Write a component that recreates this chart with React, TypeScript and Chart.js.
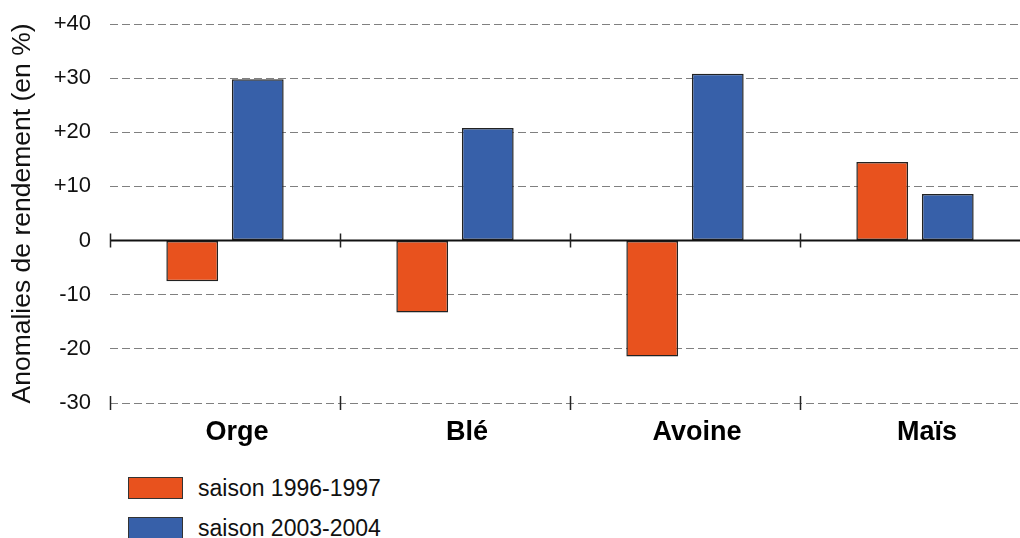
import React, { useEffect, useRef } from "react";
import { Chart, registerables } from "chart.js";

Chart.register(...registerables);

const categories = ["Orge", "Blé", "Avoine", "Maïs"];
const season1996 = [-7.5, -13.3, -21.4, 14.5];
const season2003 = [29.8, 20.8, 30.8, 8.6];
const seriesLabels = ["saison 1996-1997", "saison 2003-2004"];
const seriesColors = ["#E8521E", "#3760A9"];
const yTitle = "Anomalies de rendement (en %)";
const yMin = -30;
const yMax = 40;
const yStep = 10;

const FONT = "'Liberation Sans', Arial, Helvetica, sans-serif";

const decorPlugin = {
  id: "decor",
  afterDatasetsDraw(chart: any) {
    const { ctx, chartArea } = chart;
    const xs = chart.scales.x;
    const ys = chart.scales.y;
    const y0 = ys.getPixelForValue(0);
    const yb = ys.getPixelForValue(yMin);
    const cw = xs.getPixelForValue(1) - xs.getPixelForValue(0);
    ctx.save();
    ctx.strokeStyle = "#111";
    ctx.lineWidth = 2;
    ctx.beginPath();
    ctx.moveTo(chartArea.left, y0);
    ctx.lineTo(chartArea.right, y0);
    ctx.stroke();
    ctx.lineWidth = 1.5;
    ctx.strokeStyle = "#222";
    for (let i = 0; i < categories.length; i++) {
      const bx = Math.round(xs.getPixelForValue(i) - cw / 2) + 0.5;
      ctx.beginPath();
      ctx.moveTo(bx, y0 - 7);
      ctx.lineTo(bx, y0 + 7);
      ctx.moveTo(bx, yb - 7);
      ctx.lineTo(bx, yb + 7);
      ctx.stroke();
    }
    ctx.restore();
  },
};

export default function App() {
  const ref = useRef<HTMLCanvasElement | null>(null);
  useEffect(() => {
    if (!ref.current) return;
    const chart = new Chart(ref.current, {
      type: "bar",
      data: {
        labels: categories,
        datasets: [
          {
            label: seriesLabels[0],
            data: season1996,
            backgroundColor: seriesColors[0],
            borderColor: "#222",
            borderWidth: 1.5,
            borderSkipped: false,
            barPercentage: 0.79,
            categoryPercentage: 0.57,
          },
          {
            label: seriesLabels[1],
            data: season2003,
            backgroundColor: seriesColors[1],
            borderColor: "#222",
            borderWidth: 1.5,
            borderSkipped: false,
            barPercentage: 0.79,
            categoryPercentage: 0.57,
          },
        ],
      },
      options: {
        animation: false,
        responsive: false,
        maintainAspectRatio: false,
        devicePixelRatio: 1,
        layout: { padding: { left: 0, top: 24, right: 10, bottom: 0 } },
        plugins: { legend: { display: false }, tooltip: { enabled: false } },
        scales: {
          x: {
            type: "category",
            offset: true,
            grid: { display: false },
            border: { display: false },
            ticks: {
              padding: 5,
              labelOffset: 12,
              color: "#000",
              font: { family: FONT, size: 27, weight: "bold" },
              maxRotation: 0,
            },
            afterFit(scale: any) {
              scale.height = 62;
              scale.paddingTop = 0;
              scale.paddingBottom = 0;
            },
          },
          y: {
            min: yMin,
            max: yMax,
            border: { display: false, dash: [8, 4] },
            grid: {
              drawTicks: false,
              lineWidth: 1,
              color: (c: any) => (c.tick && c.tick.value === 0 ? "rgba(0,0,0,0)" : "#808080"),
            },
            ticks: {
              stepSize: yStep,
              padding: 19,
              color: "#111",
              font: { family: FONT, size: 22 },
              callback: (v: any) => (v > 0 ? "+" + v : String(v)),
            },
            title: {
              display: true,
              text: yTitle,
              color: "#111",
              font: { family: FONT, size: 26.5 },
              padding: { top: 7, bottom: 0 },
            },
            afterFit(scale: any) {
              scale.width = 110;
              scale.paddingTop = 0;
              scale.paddingBottom = 0;
            },
          },
        },
      },
      plugins: [decorPlugin],
    } as any);
    return () => chart.destroy();
  }, []);

  const legendRow = (i: number, top: number) => (
    <div key={i}>
      <div
        style={{
          position: "absolute",
          left: 128,
          top,
          width: 55,
          height: 22,
          boxSizing: "border-box",
          border: "1px solid #333",
          background: seriesColors[i],
        }}
      />
      <div
        style={{
          position: "absolute",
          left: 198,
          top: top - 3,
          height: 28,
          lineHeight: "28px",
          fontFamily: FONT,
          fontSize: 23,
          color: "#111",
          whiteSpace: "nowrap",
        }}
      >
        {seriesLabels[i]}
      </div>
    </div>
  );

  return (
    <div
      style={{
        position: "fixed",
        left: 0,
        top: 0,
        width: 1020,
        height: 538,
        overflow: "hidden",
        background: "#fff",
      }}
    >
      <canvas
        ref={ref}
        width={1040}
        height={465}
        style={{ position: "absolute", left: 0, top: 0, width: 1040, height: 465, display: "block" }}
      />
      {legendRow(0, 477)}
      {legendRow(1, 517)}
    </div>
  );
}
